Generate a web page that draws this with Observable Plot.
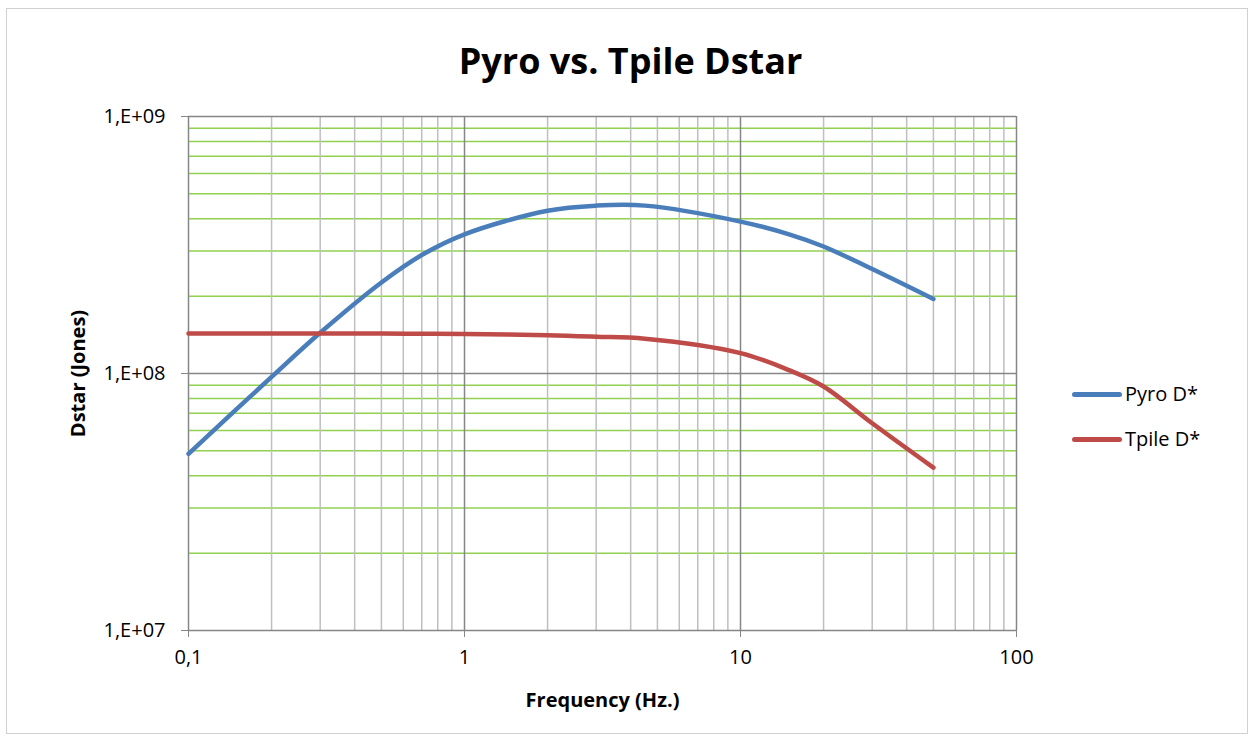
<!DOCTYPE html>
<html>
<head>
<meta charset="utf-8">
<script src="https://cdn.jsdelivr.net/npm/d3@7"></script>
<script src="https://cdn.jsdelivr.net/npm/@observablehq/plot@0.6"></script>
<style>
  html, body { margin: 0; padding: 0; background: #fff; }
  #wrap { position: relative; width: 1256px; height: 740px; overflow: hidden; font-family: "Open Sans", "Liberation Sans", sans-serif; }
  #border { position: absolute; left: 6px; top: 8px; width: 1242px; height: 726px; border: 1.5px solid #d0d0d0; box-sizing: border-box; }
  #chart { position: absolute; left: 0; top: 0; }
  .leg { position: absolute; left: 1072px; display: flex; align-items: center; font-size: 20px; color: #000; line-height: 24px; }
  .leg span.sw { display: inline-block; width: 50px; height: 5px; border-radius: 3px; margin-right: 3px; }
</style>
</head>
<body>
<div id="wrap">
  <div id="border"></div>
  <div id="chart"></div>
  <div class="leg" style="top:382px"><span class="sw" style="background:#4A7EBB"></span>Pyro D*</div>
  <div class="leg" style="top:427px"><span class="sw" style="background:#BE4B48"></span>Tpile D*</div>
</div>
<script>
const freq  = [0.1, 0.2, 0.3, 0.5, 0.7, 1, 2, 3, 4.5, 10, 15, 20, 30, 50];
const pyro  = [4.87e7, 9.7e7, 1.44e8, 2.26e8, 2.89e8, 3.48e8, 4.3e8, 4.5e8, 4.5e8, 3.9e8, 3.48e8, 3.12e8, 2.55e8, 1.95e8];
const tpile = [1.43e8, 1.43e8, 1.43e8, 1.43e8, 1.428e8, 1.425e8, 1.41e8, 1.39e8, 1.365e8, 1.2e8, 1.03e8, 8.9e7, 6.4e7, 4.3e7];
const seriesNames = ["Pyro D*", "Tpile D*"];
const seriesColors = ["#4A7EBB", "#BE4B48"];

const xMajor = [0.1, 1, 10, 100];
const xMajorLabels = ["0,1", "1", "10", "100"];
const xMinor = [0.2,0.3,0.4,0.5,0.6,0.7,0.8,0.9, 2,3,4,5,6,7,8,9, 20,30,40,50,60,70,80,90];
const yMajor = [1e7, 1e8, 1e9];
const yMajorLabels = ["1,E+07", "1,E+08", "1,E+09"];
const yMinor = [2e7,3e7,4e7,5e7,6e7,7e7,8e7,9e7, 2e8,3e8,4e8,5e8,6e8,7e8,8e8,9e8];

const rows = [];
freq.forEach((f, i) => {
  rows.push({f, v: pyro[i], s: seriesNames[0]});
  rows.push({f, v: tpile[i], s: seriesNames[1]});
});

const plot = Plot.plot({
  width: 1256,
  height: 740,
  marginLeft: 188,
  marginRight: 240,
  marginTop: 116,
  marginBottom: 110,
  style: { fontFamily: "'Open Sans', 'Liberation Sans', sans-serif", fontSize: "20px", color: "#000", background: "transparent" },
  x: { type: "log", domain: [0.1, 100] },
  y: { type: "log", domain: [1e7, 1e9] },
  color: { domain: seriesNames, range: seriesColors },
  marks: [
    Plot.ruleY(yMinor, { y: d => d, stroke: "#92D050", strokeWidth: 1.5 }),
    Plot.ruleX(xMinor, { x: d => d, stroke: "#BFBFBF", strokeWidth: 1.5 }),
    Plot.ruleX(xMajor, { x: d => d, stroke: "#868686", strokeWidth: 1.5 }),
    Plot.ruleY(yMajor, { y: d => d, stroke: "#868686", strokeWidth: 1.5 }),
    Plot.axisX(xMajor, { tickFormat: (d) => xMajorLabels[xMajor.indexOf(d)], tickSize: 7, tickPadding: 12, stroke: "#868686", fontSize: 20, label: null }),
    Plot.axisY(yMajor, { tickFormat: (d) => yMajorLabels[yMajor.indexOf(d)], tickSize: 7, tickPadding: 16, stroke: "#868686", fontSize: 20, label: null }),
    Plot.line(rows, { x: "f", y: "v", z: "s", stroke: "s", strokeWidth: 4.5, curve: "catmull-rom", strokeLinecap: "round", strokeLinejoin: "round" }),
    Plot.text(["Pyro vs. Tpile Dstar"], { frameAnchor: "top", dx: 28, dy: -54, fontSize: 36, fontWeight: "bold", textAnchor: "middle", lineAnchor: "middle" }),
    Plot.text(["Frequency (Hz.)"], { frameAnchor: "bottom", dy: 70, fontSize: 20, fontWeight: "bold", textAnchor: "middle", lineAnchor: "middle" }),
    Plot.text(["Dstar (Jones)"], { frameAnchor: "left", dx: -110, rotate: -90, fontSize: 20, fontWeight: "bold", textAnchor: "middle", lineAnchor: "middle" })
  ]
});
document.getElementById("chart").appendChild(plot);
</script>
</body>
</html>
